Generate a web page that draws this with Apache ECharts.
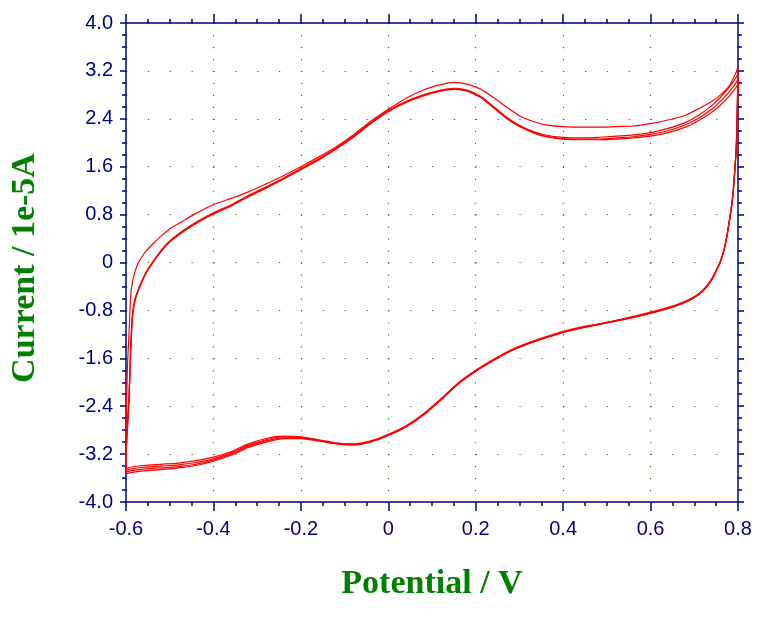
<!DOCTYPE html>
<html>
<head>
<meta charset="utf-8">
<script src="https://cdn.jsdelivr.net/npm/echarts@6/dist/echarts.min.js"></script>
<style>html,body{margin:0;padding:0;background:#fff;}#c{width:778px;height:618px;}</style>
</head>
<body>
<div id="c"></div>
<script>
// Tick labels
var xTickLabels = ['-0.6','-0.4','-0.2','0','0.2','0.4','0.6','0.8'];
var yTickLabels = ['-4.0','-3.2','-2.4','-1.6','-0.8','0','0.8','1.6','2.4','3.2','4.0'];

// Forward (anodic) scan potentials, V
var fwdE = [-0.6,-0.5995,-0.598,-0.596,-0.593,-0.589,-0.585,-0.58,-0.573,-0.565,-0.555,-0.54,-0.52,-0.5,-0.47,-0.44,-0.4,-0.36,-0.32,-0.28,-0.24,-0.2,-0.16,-0.12,-0.08,-0.04,0,0.04,0.08,0.12,0.15,0.18,0.21,0.24,0.27,0.3,0.33,0.36,0.4,0.44,0.48,0.52,0.56,0.6,0.64,0.68,0.71,0.74,0.76,0.78,0.79,0.797,0.8];
// Forward currents per cycle, 1e-5 A
var fwdI1 = [-3.45,-2.6,-2.1,-1.62,-1.17,-0.53,-0.32,-0.17,-0.02,0.08,0.18,0.30,0.44,0.56,0.69,0.82,0.965,1.07,1.18,1.31,1.45,1.60,1.76,1.93,2.13,2.36,2.56,2.74,2.88,2.97,3.01,2.98,2.90,2.76,2.60,2.45,2.36,2.30,2.27,2.26,2.26,2.27,2.28,2.32,2.38,2.46,2.57,2.69,2.80,2.95,3.09,3.20,3.27];
var fwdI2 = [-3.45,-3.1,-2.85,-2.6,-2.2,-1.36,-0.85,-0.62,-0.47,-0.33,-0.17,0.0,0.20,0.36,0.53,0.67,0.83,0.96,1.12,1.26,1.41,1.57,1.73,1.91,2.11,2.34,2.54,2.69,2.80,2.88,2.91,2.88,2.78,2.61,2.43,2.29,2.19,2.13,2.09,2.08,2.09,2.11,2.13,2.17,2.24,2.34,2.46,2.62,2.76,2.93,3.03,3.11,3.15];
var fwdI3 = [-3.47,-3.15,-2.9,-2.65,-2.25,-1.4,-0.88,-0.64,-0.48,-0.34,-0.18,-0.01,0.19,0.35,0.52,0.66,0.82,0.95,1.11,1.25,1.40,1.56,1.72,1.90,2.10,2.33,2.53,2.68,2.79,2.87,2.90,2.87,2.77,2.60,2.42,2.28,2.18,2.11,2.07,2.06,2.06,2.08,2.10,2.14,2.20,2.30,2.41,2.56,2.69,2.85,2.94,3.02,3.06];
var fwdI4 = [-3.5,-3.2,-2.95,-2.7,-2.3,-1.45,-0.91,-0.66,-0.49,-0.35,-0.19,-0.02,0.18,0.34,0.51,0.65,0.81,0.94,1.10,1.24,1.39,1.55,1.71,1.89,2.09,2.32,2.52,2.67,2.78,2.86,2.89,2.86,2.76,2.59,2.41,2.27,2.17,2.10,2.06,2.05,2.05,2.06,2.08,2.11,2.17,2.26,2.37,2.51,2.63,2.78,2.87,2.94,2.98];

// Reverse (cathodic) scan potentials, V
var revE = [0.8,0.798,0.796,0.793,0.789,0.785,0.78,0.775,0.768,0.76,0.75,0.74,0.725,0.71,0.69,0.665,0.64,0.6,0.56,0.52,0.48,0.44,0.4,0.36,0.32,0.28,0.24,0.2,0.16,0.12,0.08,0.04,0,-0.04,-0.08,-0.12,-0.16,-0.2,-0.24,-0.28,-0.32,-0.36,-0.4,-0.44,-0.48,-0.52,-0.56,-0.59,-0.6];
var revI1 = [3.27,2.5,1.94,1.6,1.2,0.94,0.70,0.47,0.22,0.03,-0.13,-0.27,-0.42,-0.52,-0.61,-0.69,-0.75,-0.83,-0.90,-0.97,-1.03,-1.08,-1.15,-1.24,-1.34,-1.46,-1.62,-1.80,-2.01,-2.28,-2.53,-2.73,-2.87,-2.98,-3.03,-3.01,-2.96,-2.91,-2.90,-2.94,-3.03,-3.16,-3.25,-3.31,-3.35,-3.37,-3.39,-3.42,-3.45];
var revI2 = [3.15,2.45,1.92,1.58,1.19,0.93,0.69,0.46,0.21,0.02,-0.14,-0.28,-0.43,-0.53,-0.62,-0.70,-0.76,-0.84,-0.91,-0.97,-1.03,-1.09,-1.16,-1.25,-1.35,-1.47,-1.63,-1.81,-2.02,-2.29,-2.54,-2.74,-2.88,-2.99,-3.04,-3.02,-2.97,-2.92,-2.91,-2.96,-3.05,-3.18,-3.28,-3.34,-3.38,-3.40,-3.42,-3.45,-3.47];
var revI3 = [3.06,2.4,1.9,1.57,1.18,0.92,0.68,0.45,0.21,0.02,-0.14,-0.28,-0.43,-0.53,-0.62,-0.70,-0.76,-0.84,-0.91,-0.98,-1.04,-1.09,-1.16,-1.25,-1.35,-1.47,-1.63,-1.81,-2.02,-2.29,-2.54,-2.74,-2.88,-2.99,-3.04,-3.02,-2.97,-2.93,-2.93,-2.98,-3.07,-3.20,-3.30,-3.37,-3.41,-3.43,-3.45,-3.48,-3.50];
var revI4 = [2.98,2.35,1.88,1.56,1.17,0.91,0.67,0.44,0.20,0.01,-0.15,-0.29,-0.44,-0.54,-0.63,-0.71,-0.77,-0.85,-0.92,-0.98,-1.04,-1.10,-1.17,-1.26,-1.36,-1.48,-1.64,-1.82,-2.03,-2.30,-2.55,-2.75,-2.89,-3.00,-3.05,-3.03,-2.98,-2.94,-2.94,-3.00,-3.09,-3.22,-3.32,-3.39,-3.43,-3.46,-3.48,-3.51,-3.53];

function zip(E, I) {
  var n = Math.min(E.length, I.length), out = [];
  for (var i = 0; i < n; i++) out.push([E[i], I[i]]);
  return out;
}
var cycles = [[fwdI1, revI1], [fwdI2, revI2], [fwdI3, revI3], [fwdI4, revI4]];

var navy = '#000080';
var dotColor = '#3f7000';
var labelFont = '"Liberation Sans", Arial, sans-serif';
var titleFont = 'bold 34px "Liberation Serif", "Times New Roman", serif';
var xStep = 612 / 28; // px between x minor ticks
var yStep = 479 / 40; // px between y minor ticks

var series = [];
cycles.forEach(function (c) {
  series.push({
    type: 'line', xAxisIndex: 0, yAxisIndex: 0,
    data: zip(fwdE, c[0]).concat(zip(revE, c[1])),
    showSymbol: false, symbol: 'none', smooth: 0.25,
    lineStyle: { color: '#ff0000', width: 1.2 },
    silent: true, z: 5
  });
});

function xLabel(v) {
  var i = Math.round((v + 0.6) / 0.2);
  return xTickLabels[i] !== undefined ? xTickLabels[i] : '';
}
function yLabel(v) {
  var i = Math.round((v + 4) / 0.8);
  return yTickLabels[i] !== undefined ? yTickLabels[i] : '';
}

var chart = echarts.init(document.getElementById('c'), null, { renderer: 'canvas' });
chart.setOption({
  animation: false,
  backgroundColor: '#fff',
  grid: { left: 126, top: 23, right: 40, bottom: 116, containLabel: false },
  xAxis: [
    {
      type: 'value', position: 'bottom', min: -0.6, max: 0.8, interval: 0.2,
      axisLine: { show: true, onZero: false, lineStyle: { color: navy, width: 1.5 } },
      axisTick: { show: true, inside: false, length: 9, lineStyle: { color: navy, width: 1.5 } },
      minorTick: { show: true, splitNumber: 4, length: 4, lineStyle: { color: navy, width: 1.5 } },
      axisLabel: { show: true, margin: 17, color: navy, fontSize: 20, fontFamily: labelFont, formatter: xLabel },
      splitLine: { show: true, lineStyle: { color: dotColor, width: 1.2, type: [1.2, yStep - 1.2] } },
      minorSplitLine: { show: false }
    },
    {
      type: 'value', position: 'top', min: -0.6, max: 0.8, interval: 0.2,
      axisLine: { show: true, onZero: false, lineStyle: { color: navy, width: 1.5 } },
      axisTick: { show: true, inside: false, length: 9, lineStyle: { color: navy, width: 1.5 } },
      minorTick: { show: true, splitNumber: 4, length: 4, lineStyle: { color: navy, width: 1.5 } },
      axisLabel: { show: false },
      splitLine: { show: false }
    }
  ],
  yAxis: [
    {
      type: 'value', position: 'left', min: -4, max: 4, interval: 0.8,
      axisLine: { show: true, onZero: false, lineStyle: { color: navy, width: 1.5 } },
      axisTick: { show: true, inside: false, length: 6, lineStyle: { color: navy, width: 1.5 } },
      minorTick: { show: true, splitNumber: 4, length: 4, lineStyle: { color: navy, width: 1.5 } },
      axisLabel: { show: true, margin: 13, color: navy, fontSize: 20, fontFamily: labelFont, formatter: yLabel },
      splitLine: { show: true, lineStyle: { color: dotColor, width: 1.2, type: [1.2, xStep - 1.2] } }
    },
    {
      type: 'value', position: 'right', min: -4, max: 4, interval: 0.8,
      axisLine: { show: true, onZero: false, lineStyle: { color: navy, width: 1.5 } },
      axisTick: { show: true, inside: false, length: 6, lineStyle: { color: navy, width: 1.5 } },
      minorTick: { show: true, splitNumber: 4, length: 4, lineStyle: { color: navy, width: 1.5 } },
      axisLabel: { show: false },
      splitLine: { show: false }
    }
  ],
  graphic: [
    {
      type: 'text', x: 432, y: 584,
      style: { text: 'Potential / V', fill: '#008000', font: titleFont, textAlign: 'center', textVerticalAlign: 'middle' }
    },
    {
      type: 'text', x: 25, y: 268, rotation: Math.PI / 2,
      style: { text: 'Current / 1e-5A', fill: '#008000', font: titleFont, textAlign: 'center', textVerticalAlign: 'middle' }
    }
  ],
  series: series
});
</script>
</body>
</html>
